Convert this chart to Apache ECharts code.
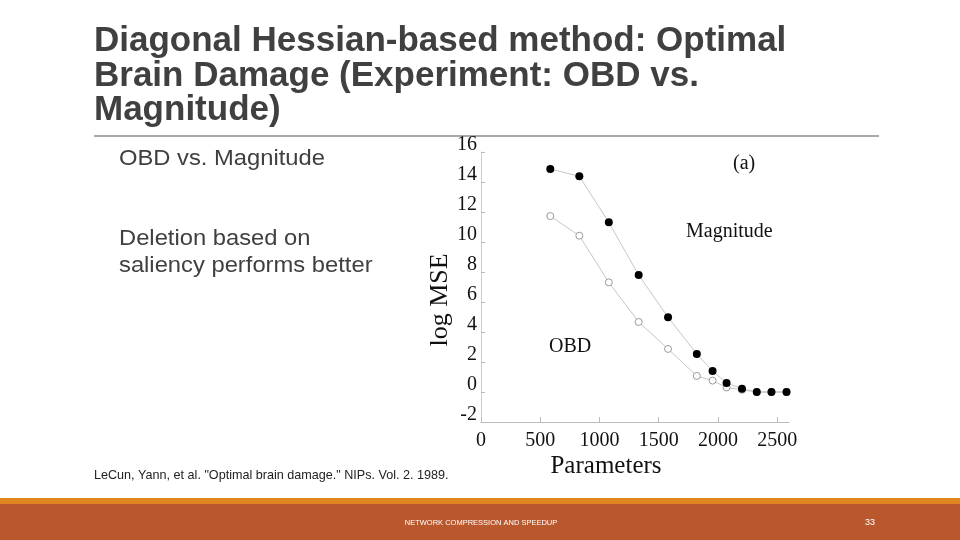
<!DOCTYPE html>
<html>
<head>
<meta charset="utf-8">
<script src="https://cdn.jsdelivr.net/npm/echarts@6/dist/echarts.min.js"></script>
<style>
    html, body { margin: 0; padding: 0; background: #fff; }
    #container { width: 960px; height: 540px; }
</style>
</head>
<body>
<div id="container"></div>
<script>
    // values (parameters, log MSE)
    var magParams = [585, 830, 1079, 1331, 1579, 1822, 1955, 2073, 2203, 2328, 2452, 2579];
    var magMse    = [14.87, 14.38, 11.31, 7.8, 4.98, 2.53, 1.4, 0.6, 0.22, 0, 0, 0];
    var obdParams = [585, 830, 1079, 1331, 1579, 1822, 1955, 2073, 2203, 2328, 2452, 2579];
    var obdMse    = [11.73, 10.42, 7.31, 4.67, 2.87, 1.07, 0.76, 0.3, 0.15, 0, 0, 0];
    var xTicks = [0, 500, 1000, 1500, 2000, 2500];
    var yTicks = [-2, 0, 2, 4, 6, 8, 10, 12, 14, 16];

    function pairs(xs, ys) {
        var out = [];
        for (var i = 0; i < xs.length; i++) out.push([xs[i], ys[i]]);
        return out;
    }

    var serif = '"Liberation Serif", "DejaVu Serif", serif';
    var sans = '"Liberation Sans", Arial, sans-serif';

    var dom = document.getElementById("container");
    var myChart = echarts.init(dom);
    var option = {
        animation: false,
        backgroundColor: '#ffffff',
        grid: { left: 481, right: 171, top: 152, bottom: 118, containLabel: false },
        xAxis: {
            type: 'value',
            min: 0,
            max: 2600,
            interval: 500,
            name: 'Parameters',
            nameLocation: 'middle',
            nameGap: 32,
            // the name sits left of the axis centre in the original
            nameTextStyle: { fontFamily: serif, fontSize: 25, color: '#111', padding: [0, 58, 0, 0] },
            axisLine: { show: true, onZero: false, lineStyle: { color: '#bbbbbb', width: 1 } },
            axisTick: { show: true, inside: true, length: 5, customValues: xTicks, lineStyle: { color: '#bbbbbb' } },
            axisLabel: { customValues: xTicks, margin: 9, fontFamily: serif, fontSize: 20, color: '#111',
                         formatter: function (v) { return String(v); } },
            splitLine: { show: false }
        },
        yAxis: {
            type: 'value',
            min: -2,
            max: 16,
            interval: 2,
            name: 'log MSE',
            nameLocation: 'middle',
            nameRotate: 90,
            nameGap: 27,
            nameTextStyle: { fontFamily: serif, fontSize: 26, color: '#111', padding: [0, 26, 0, 0] },
            axisLine: { show: true, onZero: false, lineStyle: { color: '#cccccc', width: 1 } },
            axisTick: { show: true, inside: true, length: 4, customValues: yTicks, lineStyle: { color: '#bbbbbb' } },
            axisLabel: { customValues: yTicks, margin: 4, fontFamily: serif, fontSize: 20, color: '#111',
                         verticalAlign: 'bottom', lineHeight: 14 },
            splitLine: { show: false }
        },
        series: [
            {
                name: 'OBD',
                type: 'line',
                data: pairs(obdParams, obdMse),
                symbol: 'circle',
                symbolSize: 7,
                z: 2,
                lineStyle: { color: '#c0c0c0', width: 0.9 },
                itemStyle: { color: '#ffffff', borderColor: '#9a9a9a', borderWidth: 1 }
            },
            {
                name: 'Magnitude',
                type: 'line',
                data: pairs(magParams, magMse),
                symbol: 'circle',
                symbolSize: 8,
                z: 3,
                lineStyle: { color: '#c0c0c0', width: 0.9 },
                itemStyle: { color: '#000000', borderColor: '#000000', borderWidth: 0 }
            }
        ],
        graphic: [
            // slide title
            { type: 'text', left: 94, top: 24, style: {
                text: 'Diagonal Hessian-based method: Optimal\nBrain Damage (Experiment: OBD vs.\nMagnitude)',
                fontFamily: sans, fontWeight: 'bold', fontSize: 35, lineHeight: 34.5, fill: '#404040' } },
            { type: 'line', shape: { x1: 94, y1: 136, x2: 879, y2: 136 }, style: { stroke: '#8c8c8c', lineWidth: 1.5 } },
            // body text
            { type: 'text', x: 119, y: 148, scaleX: 1.08, style: {
                text: 'OBD vs. Magnitude', fontFamily: sans, fontSize: 22, fill: '#404040' } },
            { type: 'text', x: 119, y: 225, scaleX: 1.08, style: {
                text: 'Deletion based on\nsaliency performs better', fontFamily: sans, fontSize: 22, lineHeight: 27, fill: '#404040' } },
            { type: 'text', left: 94, top: 469, style: {
                text: 'LeCun, Yann, et al. "Optimal brain damage." NIPs. Vol. 2. 1989.',
                fontFamily: sans, fontSize: 12.6, fill: '#222' } },
            // chart annotations
            { type: 'text', left: 733, top: 154, style: { text: '(a)', fontFamily: serif, fontSize: 20, fill: '#111' } },
            { type: 'text', left: 686, top: 222, style: { text: 'Magnitude', fontFamily: serif, fontSize: 20, fill: '#111' } },
            { type: 'text', left: 549, top: 337, style: { text: 'OBD', fontFamily: serif, fontSize: 20, fill: '#111' } },
            // footer
            { type: 'rect', shape: { x: 0, y: 498, width: 960, height: 6 }, style: { fill: '#e0851f' } },
            { type: 'rect', shape: { x: 0, y: 504, width: 960, height: 36 }, style: { fill: '#b9582d' } },
            { type: 'text', x: 481, y: 523, style: {
                text: 'NETWORK COMPRESSION AND SPEEDUP', fontFamily: sans, fontSize: 7.5,
                fill: '#ffffff', align: 'center', verticalAlign: 'middle' } },
            { type: 'text', x: 870, y: 523, style: {
                text: '33', fontFamily: sans, fontSize: 9, fill: '#ffffff', align: 'center', verticalAlign: 'middle' } }
        ]
    };
    if (option && typeof option === "object") {
        myChart.setOption(option, true);
    }
</script>
</body>
</html>
